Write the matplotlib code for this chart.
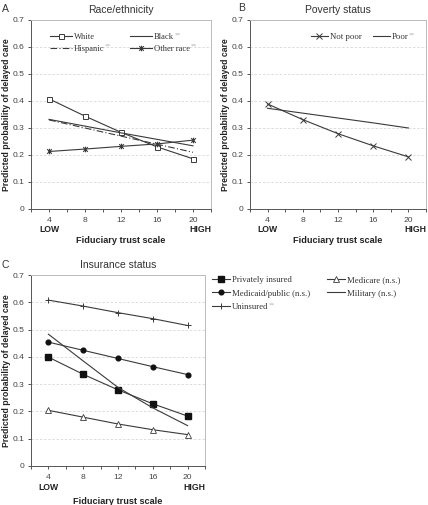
import matplotlib
matplotlib.use("Agg")
import matplotlib.pyplot as plt
from matplotlib.path import Path
import numpy as np

# ---------------- data ----------------
trust = [4, 8, 12, 16, 20]

white = [0.408, 0.344, 0.284, 0.230, 0.186]
black = [0.332, 0.307, 0.282, 0.258, 0.234]
hispanic = [0.330, 0.300, 0.270, 0.240, 0.210]
other_race = [0.213, 0.222, 0.232, 0.241, 0.255]

not_poor = [0.389, 0.331, 0.279, 0.234, 0.193]
poor = [0.373, 0.355, 0.337, 0.319, 0.300]

private = [0.399, 0.336, 0.279, 0.228, 0.183]
medicaid = [0.454, 0.424, 0.394, 0.364, 0.335]
uninsured = [0.608, 0.586, 0.562, 0.540, 0.515]
medicare = [0.204, 0.179, 0.154, 0.133, 0.115]
military = [0.483, 0.385, 0.288, 0.213, 0.148]

xtick_labels = ["4", "8", "12", "16", "20"]
yticks = [0, 0.1, 0.2, 0.3, 0.4, 0.5, 0.6, 0.7]
ytick_labels = ["0", "0.1", "0.2", "0.3", "0.4", "0.5", "0.6", "0.7"]

# ---------------- style ----------------
LC = "#3a3a3a"
SANS = ["Liberation Sans", "DejaVu Sans"]
SERIF = ["Liberation Serif", "DejaVu Serif"]
plt.rcParams["font.family"] = SANS

star = Path([(-1, -1), (1, 1), (-1, 1), (1, -1), (0, -1.2), (0, 1.2)],
            [Path.MOVETO, Path.LINETO, Path.MOVETO, Path.LINETO, Path.MOVETO, Path.LINETO])

W, H = 428, 505
fig = plt.figure(figsize=(W / 100, H / 100), dpi=100)


def px_axes(l, t, r, b):
    ax = fig.add_axes([l / W, 1 - b / H, (r - l) / W, (b - t) / H])
    ax._px = (l, t, r, b)
    return ax


def style_axes(ax, title, low_off, xl_off, yl_x):
    l, t, r, b = ax._px
    h = b - t
    w = r - l
    ax.set_xlim(2, 22)
    ax.set_ylim(0, 0.7)
    ax.set_xticks(np.arange(2, 23, 2), minor=True)
    ax.set_xticks(trust)
    ax.set_xticklabels(xtick_labels)
    ax.set_yticks(yticks)
    ax.set_yticklabels(ytick_labels)
    ax.tick_params(axis="both", which="both", direction="out", length=2.5, width=0.6,
                   colors=LC, labelsize=6.1, labelcolor="#444444", pad=2)
    ax.tick_params(axis="x", which="major", pad=3)
    for s in ["left", "bottom"]:
        ax.spines[s].set_color("#555555")
        ax.spines[s].set_linewidth(0.7)
    for s in ["top", "right"]:
        ax.spines[s].set_color("#bbbbbb")
        ax.spines[s].set_linewidth(0.7)
    for y in yticks[1:-1]:
        ax.axhline(y, color="#d8d8d8", lw=0.6, ls=(0, (3, 2)), zorder=0)
    ax.set_title(title, fontsize=7.5, color="#333333", pad=5)
    ax.set_ylabel("Predicted probability of delayed care", fontsize=6.2,
                  fontweight="bold", color="#222222", va="center")
    ax.yaxis.set_label_coords((yl_x - l) / w, 0.5)
    ax.set_xlabel("Fiduciary trust scale", fontsize=6.6, fontweight="bold",
                  color="#222222", va="center")
    ax.xaxis.set_label_coords(0.5, -xl_off / h)
    ax.text(4, -low_off / h, "LOW", ha="center", va="center", fontsize=6.2,
            fontweight="bold", color="#222222",
            transform=ax.get_xaxis_transform(), clip_on=False)
    ax.text(20.8, -low_off / h, "HIGH", ha="center", va="center", fontsize=6.2,
            fontweight="bold", color="#222222",
            transform=ax.get_xaxis_transform(), clip_on=False)


def add_stars(ax, leg, idxs):
    texts = leg.get_texts()
    for i in idxs:
        t = texts[i]
        ax.annotate("**", xy=(1, 1), xycoords=t, xytext=(0.3, 0.5),
                    textcoords="offset points", ha="left", va="top",
                    fontsize=4.5, color="#b0b0b0", family=SERIF,
                    annotation_clip=False, zorder=20)


kw = dict(color=LC, lw=0.8)

# ---------------- Panel A ----------------
axA = px_axes(31, 20, 211, 209)
style_axes(axA, "Race/ethnicity", 21, 32, 7)
lW, = axA.plot(trust, white, marker="s", ms=3.6, mfc="white", mec=LC, mew=0.7, **kw)
lB, = axA.plot(trust, black, **kw)
lH, = axA.plot(trust, hispanic, ls=(0, (6, 2, 1, 2)), **kw)
lO, = axA.plot(trust, other_race, marker=star, ms=4, mfc="none", mec=LC, mew=0.8, **kw)
legA = axA.legend([lW, lH, lB, lO], ["White", "Hispanic", "Black", "Other race"],
                  ncol=2, loc="upper left", bbox_to_anchor=(0.09, 0.945),
                  frameon=False, prop=dict(family=SERIF, size=6.1),
                  handlelength=2.6, handletextpad=0.25, columnspacing=3.0,
                  labelspacing=0.45, borderaxespad=0, borderpad=0.3)
for t in legA.get_texts():
    t.set_color("#333333")
add_stars(axA, legA, [1, 2, 3])

# ---------------- Panel B ----------------
axB = px_axes(250, 20, 426, 209)
style_axes(axB, "Poverty status", 21, 32, 226)
lN, = axB.plot(trust, not_poor, marker="x", ms=4.5, mec=LC, mew=0.7, **kw)
lP, = axB.plot(trust, poor, **kw)
legB = axB.legend([lN, lP], ["Not poor", "Poor"], ncol=2, loc="upper left",
                  bbox_to_anchor=(0.33, 0.945), frameon=False,
                  prop=dict(family=SERIF, size=6.3), handlelength=2.0,
                  handletextpad=0.15, columnspacing=1.3, borderaxespad=0, borderpad=0.3)
for t in legB.get_texts():
    t.set_color("#333333")
add_stars(axB, legB, [1])

# ---------------- Panel C ----------------
axC = px_axes(31, 275, 205, 466)
style_axes(axC, "Insurance status", 21, 35, 7)
lPr, = axC.plot(trust, private, marker="s", ms=4.5, mfc="#111111", mec="#111111", **kw)
lMd, = axC.plot(trust, medicaid, marker="o", ms=3.4, mfc="#111111", mec="#111111", **kw)
lU, = axC.plot(trust, uninsured, marker="+", ms=5, mec=LC, mew=0.7, **kw)
lMc, = axC.plot(trust, medicare, marker="^", ms=3.8, mfc="white", mec=LC, mew=0.6, **kw)
lMi, = axC.plot(trust, military, **kw)
legC = fig.legend([lPr, lMd, lU, lMc, lMi],
                  ["Privately insured", "Medicaid/public (n.s.)", "Uninsured",
                   "Medicare (n.s.)", "Military (n.s.)"],
                  ncol=2, loc="upper left", bbox_to_anchor=(212 / W, 1 - 276 / H),
                  frameon=False, prop=dict(family=SERIF, size=6.3),
                  handlelength=2.0, handletextpad=0.25, columnspacing=2.0,
                  labelspacing=0.6, borderaxespad=0, borderpad=0)
for t in legC.get_texts():
    t.set_color("#333333")
add_stars(axC, legC, [2])

# ---------------- panel letters ----------------
fig.text(2 / W, 1 - 9 / H, "A", fontsize=7.5, color="#333333", va="center", ha="left")
fig.text(238 / W, 1 - 8 / H, "B", fontsize=7.5, color="#333333", va="center", ha="left")
fig.text(2 / W, 1 - 265 / H, "C", fontsize=7.5, color="#333333", va="center", ha="left")

fig.canvas.draw()
fig.savefig("out.png", dpi=100)
